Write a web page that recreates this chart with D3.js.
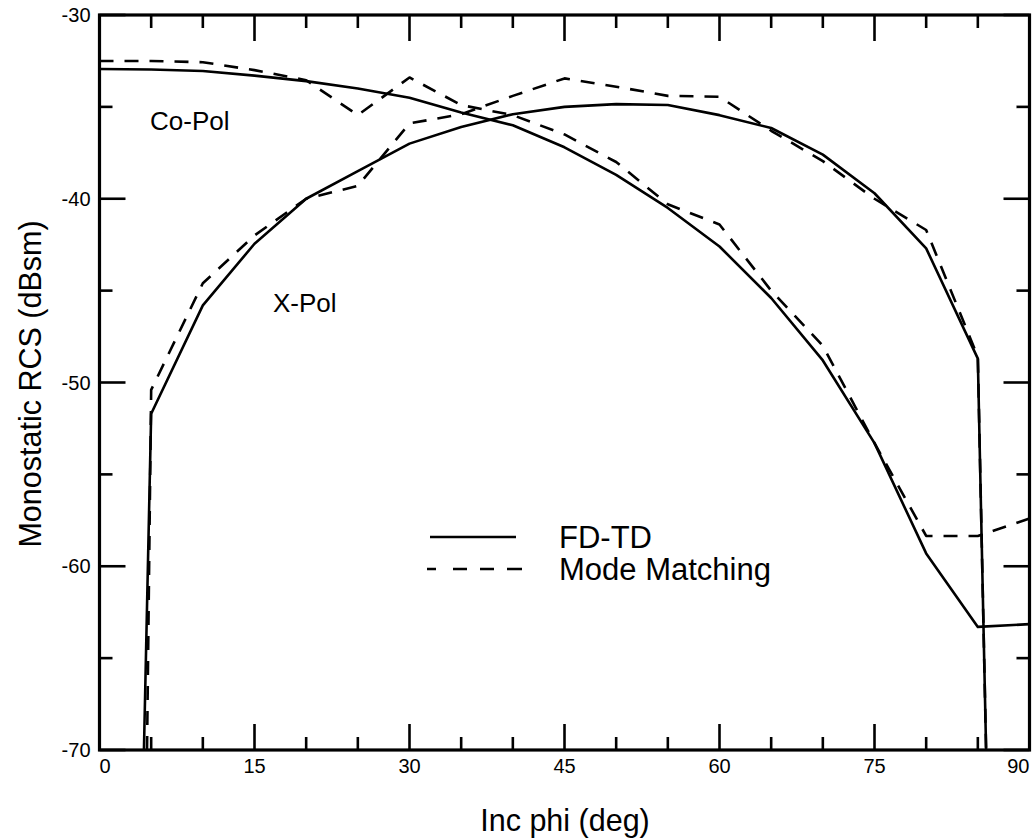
<!DOCTYPE html>
<html>
<head>
<meta charset="utf-8">
<script src="https://cdn.jsdelivr.net/npm/d3@7"></script>
<style>
  html, body { margin: 0; padding: 0; background: #fff; }
  svg { display: block; font-family: "Liberation Sans", Arial, Helvetica, sans-serif; }
</style>
</head>
<body>
<svg id="chart" width="1032" height="839"></svg>
<script>
// ---- data ----
const phi = [0, 5, 10, 15, 20, 25, 30, 35, 40, 45, 50, 55, 60, 65, 70, 75, 80, 85, 90];
const coPolFDTD = [-32.94, -32.97, -33.05, -33.3, -33.6, -34.0, -34.5, -35.3, -36.0, -37.2, -38.7, -40.5, -42.6, -45.4, -48.8, -53.3, -59.3, -63.3, -63.15];
const coPolMM   = [-32.5, -32.5, -32.57, -33.0, -33.55, -35.45, -33.4, -34.9, -35.45, -36.5, -38.0, -40.3, -41.4, -45.0, -48.0, -53.3, -58.35, -58.35, -57.4];

const xPolPhiFDTD = [4.3, 5, 10, 15, 20, 25, 30, 35, 40, 45, 50, 55, 60, 65, 70, 75, 80, 85, 85.8];
const xPolFDTD    = [-70, -51.7, -45.8, -42.45, -40.0, -38.5, -37.0, -36.1, -35.4, -35.0, -34.85, -34.9, -35.45, -36.15, -37.6, -39.7, -42.7, -48.7, -70];
const xPolPhiMM   = [4.6, 5, 10, 15, 20, 25, 30, 35, 40, 45, 50, 55, 60, 65, 70, 75, 80, 85, 85.8];
const xPolMM      = [-70, -50.4, -44.6, -42.0, -40.0, -39.3, -35.9, -35.4, -34.4, -33.45, -33.9, -34.4, -34.45, -36.3, -37.95, -40.0, -41.7, -48.6, -70];

const xMajorTicks = [0, 15, 30, 45, 60, 75, 90];
const xMinorTicks = [5, 10, 20, 25, 35, 40, 50, 55, 65, 70, 80, 85];
const yMajorTicks = [-30, -40, -50, -60, -70];
const yMinorTicks = [-35, -45, -55, -65];

const legendLabels = ["FD-TD", "Mode Matching"];
const curveLabels = ["Co-Pol", "X-Pol"];
const xTitle = "Inc phi (deg)";
const yTitle = "Monostatic RCS (dBsm)";

// ---- layout ----
const L = 99.5, R = 1029.5, T = 15, B = 750;
const x = d3.scaleLinear().domain([0, 90]).range([L, R]);
const y = d3.scaleLinear().domain([-70, -30]).range([B, T]);

const svg = d3.select("#chart");

svg.append("defs").append("clipPath").attr("id", "plotclip")
  .append("rect").attr("x", L).attr("y", T).attr("width", R - L).attr("height", B - T);

const dash = "14,11";
const lineW = 2.6;

const line = d3.line().x(d => x(d[0])).y(d => y(d[1]));
const g = svg.append("g").attr("clip-path", "url(#plotclip)");

function drawSeries(xs, ys, dashed) {
  g.append("path")
    .datum(xs.map((v, i) => [v, ys[i]]))
    .attr("d", line)
    .attr("fill", "none")
    .attr("stroke", "#000")
    .attr("stroke-width", lineW)
    .attr("stroke-linejoin", "round")
    .attr("stroke-dasharray", dashed ? dash : null);
}
drawSeries(phi, coPolFDTD, false);
drawSeries(phi, coPolMM, true);
drawSeries(xPolPhiFDTD, xPolFDTD, false);
drawSeries(xPolPhiMM, xPolMM, true);

// ---- axes: ticks on all four sides, inward ----
const major = 26, minor = 13;
const axes = svg.append("g").attr("stroke", "#000").attr("stroke-width", 2.6);
xMajorTicks.concat(xMinorTicks).forEach(t => {
  const len = xMajorTicks.includes(t) ? major : minor;
  axes.append("line").attr("x1", x(t)).attr("x2", x(t)).attr("y1", B).attr("y2", B - len);
  axes.append("line").attr("x1", x(t)).attr("x2", x(t)).attr("y1", T).attr("y2", T + len);
});
yMajorTicks.concat(yMinorTicks).forEach(t => {
  const len = yMajorTicks.includes(t) ? major : minor;
  axes.append("line").attr("x1", L).attr("x2", L + len).attr("y1", y(t)).attr("y2", y(t));
  axes.append("line").attr("x1", R).attr("x2", R - len).attr("y1", y(t)).attr("y2", y(t));
});
svg.append("rect").attr("x", L).attr("y", T).attr("width", R - L).attr("height", B - T)
  .attr("fill", "none").attr("stroke", "#000").attr("stroke-width", 3.2);

// tick labels
const tickFont = 20;
svg.append("g").selectAll("text").data(xMajorTicks).join("text")
  .attr("x", (d, i) => x(d))
  .attr("y", B + 23)
  .attr("text-anchor", (d, i) => i === 0 ? "start" : (i === xMajorTicks.length - 1 ? "end" : "middle"))
  .attr("font-size", tickFont)
  .text(d => d);
svg.append("g").selectAll("text").data(yMajorTicks).join("text")
  .attr("x", L - 9)
  .attr("y", d => y(d) + 7)
  .attr("text-anchor", "end")
  .attr("font-size", tickFont)
  .text(d => d);

// axis titles
svg.append("text").attr("x", 565).attr("y", 831).attr("text-anchor", "middle")
  .attr("font-size", 30.5).text(xTitle);
svg.append("text").attr("transform", `translate(41,384) rotate(-90)`)
  .attr("text-anchor", "middle").attr("font-size", 30.5).text(yTitle);

// curve labels
svg.append("text").attr("x", 150).attr("y", 130).attr("font-size", 26).text(curveLabels[0]);
svg.append("text").attr("x", 273).attr("y", 312).attr("font-size", 26).text(curveLabels[1]);

// legend
const leg = svg.append("g");
const legY = [537, 569];
leg.append("line").attr("x1", 430).attr("x2", 516).attr("y1", legY[0]).attr("y2", legY[0])
  .attr("stroke", "#000").attr("stroke-width", lineW);
leg.append("line").attr("x1", 427).attr("x2", 523).attr("y1", legY[1]).attr("y2", legY[1])
  .attr("stroke", "#000").attr("stroke-width", lineW).attr("stroke-dasharray", "9,17,14,13,14,13,15");
legendLabels.forEach((t, i) => {
  leg.append("text").attr("x", 559).attr("y", legY[i] + 11).attr("font-size", 31).text(t);
});
</script>
</body>
</html>
